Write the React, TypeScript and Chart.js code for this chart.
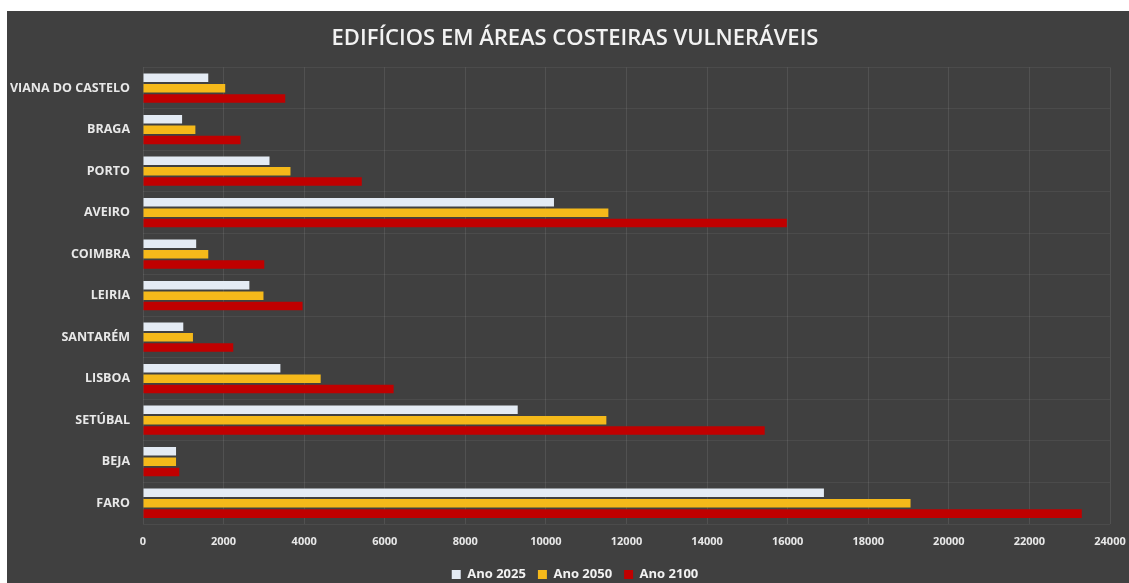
import React, { useEffect, useRef } from "react";
import { Chart, registerables } from "chart.js";

Chart.register(...registerables);

const categories = [
  "VIANA DO CASTELO",
  "BRAGA",
  "PORTO",
  "AVEIRO",
  "COIMBRA",
  "LEIRIA",
  "SANTARÉM",
  "LISBOA",
  "SETÚBAL",
  "BEJA",
  "FARO",
];
const ano2025 = [1620, 970, 3140, 10200, 1320, 2640, 1000, 3410, 9300, 820, 16900];
const ano2050 = [2040, 1300, 3660, 11550, 1620, 2990, 1240, 4410, 11500, 820, 19050];
const ano2100 = [3530, 2420, 5430, 15980, 3010, 3960, 2240, 6220, 15430, 900, 23300];
const seriesLabels = ["Ano 2025", "Ano 2050", "Ano 2100"];
const xMin = 0;
const xMax = 24000;
const xStep = 2000;

export default function App() {
  const ref = useRef<HTMLCanvasElement | null>(null);
  useEffect(() => {
    if (!ref.current) return;
    const font = "'Open Sans', 'DejaVu Sans', sans-serif";
    const chart = new Chart(ref.current, {
      type: "bar",
      data: {
        labels: categories,
        datasets: [
          { label: seriesLabels[0], data: ano2025, backgroundColor: "#e4ebf4" },
          { label: seriesLabels[1], data: ano2050, backgroundColor: "#f5b91a" },
          { label: seriesLabels[2], data: ano2100, backgroundColor: "#c00000" },
        ].map((d) => ({ ...d, categoryPercentage: 0.75, barPercentage: 0.82, borderWidth: 0 })),
      },
      options: {
        indexAxis: "y",
        animation: false,
        responsive: true,
        maintainAspectRatio: false,
        layout: { padding: { left: 0, right: -14, top: 0, bottom: -8 } },
        plugins: {
          title: {
            display: true,
            text: "EDIFÍCIOS EM ÁREAS COSTEIRAS VULNERÁVEIS",
            color: "#f2f2f2",
            font: { family: font, size: 22, weight: "600" },
            padding: { top: 15, bottom: 15 },
          },
          legend: {
            position: "bottom",
            labels: {
              color: "#f2f2f2",
              boxWidth: 9,
              boxHeight: 9,
              padding: 12,
              font: { family: font, size: 13, weight: "bold" },
            },
          },
          tooltip: { enabled: false },
        },
        scales: {
          x: {
            min: xMin,
            max: xMax,
            afterFit: (axis: any) => {
              axis.paddingRight = 19;
              axis.height = 32;
            },
            ticks: {
              stepSize: xStep,
              color: "#e8e8e8",
              font: { family: font, size: 11, weight: "bold" },
              padding: 11,
              callback: (v: any) => String(v),
            },
            grid: { color: "rgba(255,255,255,0.09)", drawTicks: false },
            border: { display: false },
          },
          y: {
            afterFit: (axis: any) => {
              axis.width = 136;
            },
            ticks: {
              color: "#e8e8e8",
              font: { family: font, size: 12.5, weight: "bold" },
              padding: 13,
            },
            grid: { color: "rgba(255,255,255,0.06)", drawTicks: false },
            border: { display: false },
          },
        },
      },
    });
    return () => chart.destroy();
  }, []);
  return (
    <div
      style={{
        position: "absolute",
        left: 7,
        top: 11,
        width: 1122,
        height: 572,
        background: "#404040",
      }}
    >
      <canvas ref={ref} />
    </div>
  );
}
